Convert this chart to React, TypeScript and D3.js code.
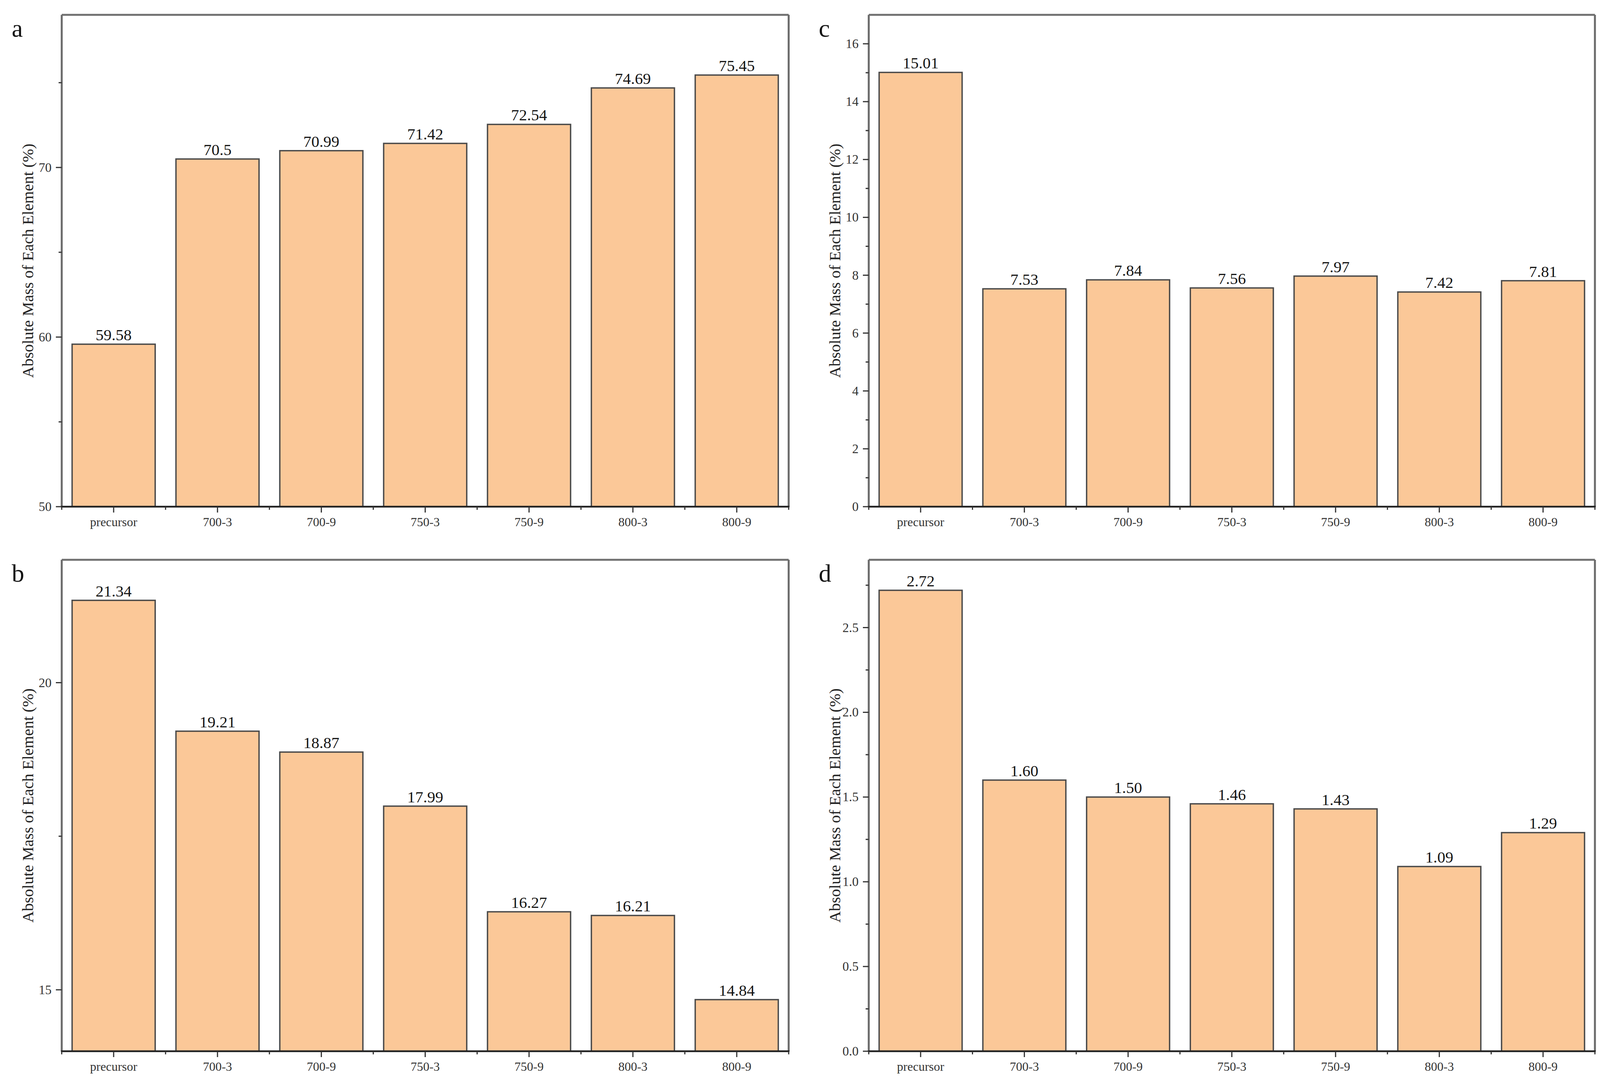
import { scaleBand, scaleLinear, ScaleBand, ScaleLinear } from "d3";

const categories = ["precursor", "700-3", "700-9", "750-3", "750-9", "800-3", "800-9"];

const valuesA = [59.58, 70.5, 70.99, 71.42, 72.54, 74.69, 75.45];
const valuesB = [21.34, 19.21, 18.87, 17.99, 16.27, 16.21, 14.84];
const valuesC = [15.01, 7.53, 7.84, 7.56, 7.97, 7.42, 7.81];
const valuesD = [2.72, 1.6, 1.5, 1.46, 1.43, 1.09, 1.29];

const domainA = [50, 79];
const domainB = [14, 22];
const domainC = [0, 17];
const domainD = [0, 2.9];

const majorA = [50, 60, 70];
const minorA = [55, 65, 75];
const majorB = [15, 20];
const minorB = [17.5];
const majorC = [0, 2, 4, 6, 8, 10, 12, 14, 16];
const minorC = [1, 3, 5, 7, 9, 11, 13, 15];
const majorD = [0, 0.5, 1.0, 1.5, 2.0, 2.5];
const minorD = [0.25, 0.75, 1.25, 1.75, 2.25, 2.75];

const yTitle = "Absolute Mass of Each Element (%)";
const FONT = "'Liberation Serif', 'Times New Roman', serif";
const BAR_FILL = "#fbc898";

interface PanelProps {
  letter: string;
  values: number[];
  domain: number[];
  major: number[];
  minor: number[];
  tickFmt: (v: number) => string;
  valueFmt: (v: number) => string;
  left: number;
  right: number;
  top: number;
  bottom: number;
}

function Panel({ letter, values, domain, major, minor, tickFmt, valueFmt, left, right, top, bottom }: PanelProps) {
  const x: ScaleBand<string> = scaleBand()
    .domain(categories)
    .range([left, right])
    .paddingInner(0.2)
    .paddingOuter(0.1);
  const y: ScaleLinear<number, number> = scaleLinear().domain(domain).range([bottom, top]);
  const step = x.step();
  const bounds = categories.map((_, i) => left + i * step).concat([right]);
  const mid = (top + bottom) / 2;

  return (
    <g fontFamily={FONT}>
      <text x={left - 128} y={top + 56} fontSize={64} fill="#111">
        {letter}
      </text>

      {values.map((v, i) => {
        const c = categories[i];
        const bx = x(c) ?? 0;
        return (
          <g key={c}>
            <rect
              x={bx}
              y={y(v)}
              width={x.bandwidth()}
              height={bottom - y(v)}
              fill={BAR_FILL}
              stroke="#4a4a4a"
              strokeWidth={3.5}
            />
            <text
              x={bx + x.bandwidth() / 2}
              y={y(v) - 10}
              textAnchor="middle"
              fontSize={41}
              fill="#151515"
            >
              {valueFmt(v)}
            </text>
          </g>
        );
      })}

      {/* frame */}
      <line x1={left} x2={right} y1={top} y2={top} stroke="#707070" strokeWidth={5} />
      <line x1={right} x2={right} y1={top} y2={bottom} stroke="#6a6a6a" strokeWidth={5} />
      <line x1={left} x2={left} y1={top} y2={bottom} stroke="#6a6a6a" strokeWidth={5} />
      <line x1={left - 2} x2={right + 2} y1={bottom} y2={bottom} stroke="#222" strokeWidth={4.5} />

      {/* y ticks */}
      {major.map((t) => (
        <g key={`M${t}`}>
          <line x1={left - 15} x2={left} y1={y(t)} y2={y(t)} stroke="#333" strokeWidth={3} />
          <text
            x={left - 26}
            y={y(t)}
            textAnchor="end"
            dominantBaseline="central"
            fontSize={33}
            fill="#333"
          >
            {tickFmt(t)}
          </text>
        </g>
      ))}
      {minor.map((t) => (
        <line key={`m${t}`} x1={left - 8} x2={left} y1={y(t)} y2={y(t)} stroke="#333" strokeWidth={3} />
      ))}

      {/* x ticks */}
      {categories.map((c) => {
        const cx = (x(c) ?? 0) + x.bandwidth() / 2;
        return (
          <g key={`x${c}`}>
            <line x1={cx} x2={cx} y1={bottom} y2={bottom + 15} stroke="#333" strokeWidth={3} />
            <text x={cx} y={bottom + 50} textAnchor="middle" fontSize={32} fill="#333">
              {c}
            </text>
          </g>
        );
      })}
      {bounds.map((b, i) => (
        <line key={`b${i}`} x1={b} x2={b} y1={bottom} y2={bottom + 8} stroke="#333" strokeWidth={3} />
      ))}

      <text
        transform={`translate(${left - 87}, ${mid}) rotate(-90)`}
        textAnchor="middle"
        dominantBaseline="central"
        fontSize={41}
        fill="#222"
      >
        {yTitle}
      </text>
    </g>
  );
}

export default function App() {
  const fmt2 = (v: number) => v.toFixed(2);
  return (
    <svg
      width={4129}
      height={2780}
      style={{ position: "absolute", left: 0, top: 0, background: "#fff" }}
    >
      <rect width={4129} height={2780} fill="#fff" />
      <Panel
        letter="a"
        values={valuesA}
        domain={domainA}
        major={majorA}
        minor={minorA}
        tickFmt={(v) => String(v)}
        valueFmt={(v) => String(v)}
        left={158}
        right={2019}
        top={38}
        bottom={1297}
      />
      <Panel
        letter="b"
        values={valuesB}
        domain={domainB}
        major={majorB}
        minor={minorB}
        tickFmt={(v) => String(v)}
        valueFmt={fmt2}
        left={158}
        right={2019}
        top={1433}
        bottom={2691}
      />
      <Panel
        letter="c"
        values={valuesC}
        domain={domainC}
        major={majorC}
        minor={minorC}
        tickFmt={(v) => String(v)}
        valueFmt={fmt2}
        left={2224}
        right={4083}
        top={38}
        bottom={1297}
      />
      <Panel
        letter="d"
        values={valuesD}
        domain={domainD}
        major={majorD}
        minor={minorD}
        tickFmt={(v) => v.toFixed(1)}
        valueFmt={fmt2}
        left={2224}
        right={4083}
        top={1433}
        bottom={2691}
      />
    </svg>
  );
}
